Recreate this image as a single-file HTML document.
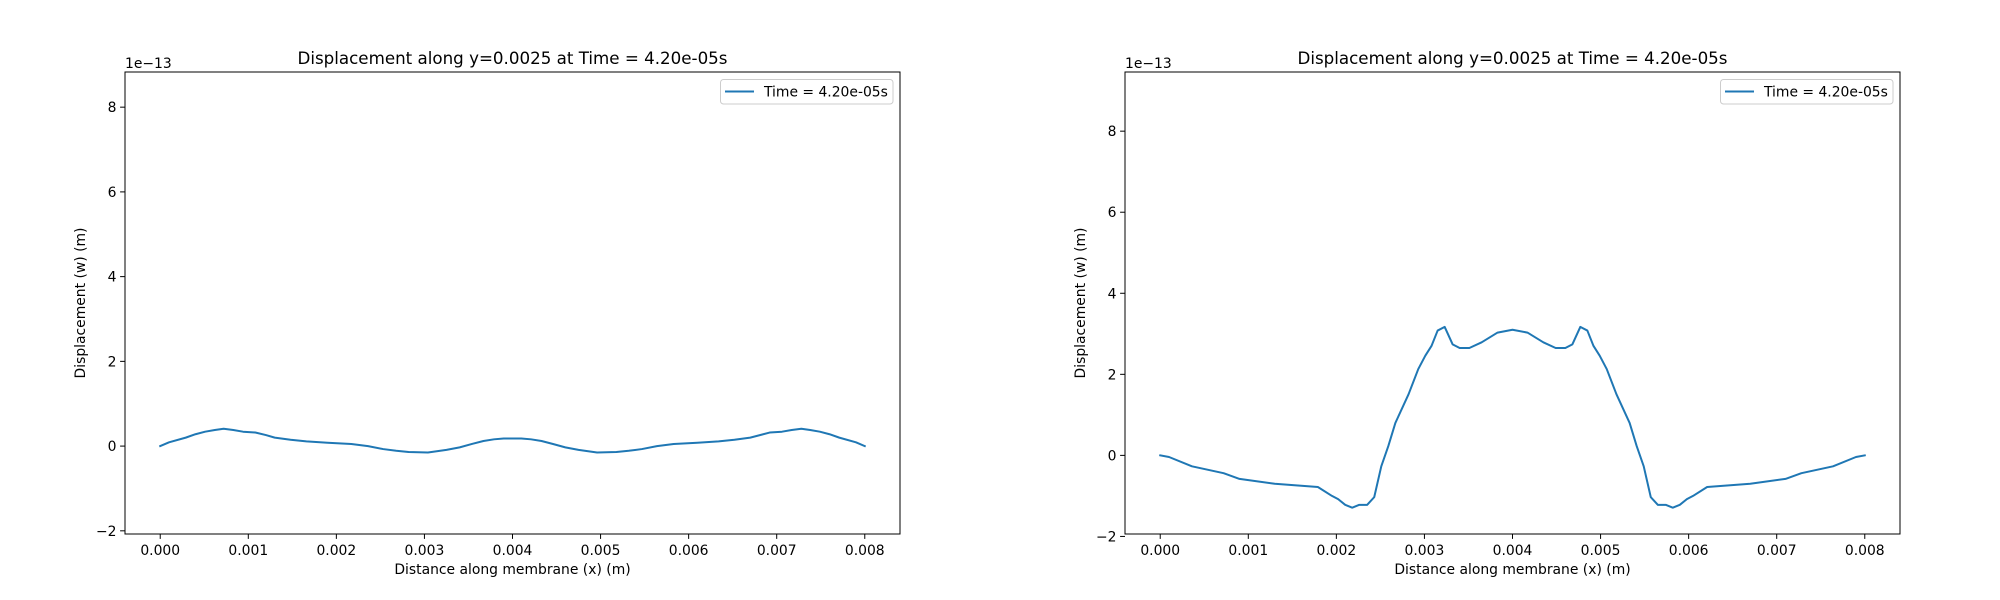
<!DOCTYPE html>
<html><head><meta charset="utf-8"><style>
html,body{margin:0;padding:0;background:#fff;}
svg{display:block;font-family:"DejaVu Sans","Liberation Sans",sans-serif;}
</style></head><body>
<svg id="fig" width="2000" height="600" viewBox="0 0 2000 600" xmlns="http://www.w3.org/2000/svg"></svg>
<script>
const xTickVals = [0,0.001,0.002,0.003,0.004,0.005,0.006,0.007,0.008];
const xTickLabels = ["0.000","0.001","0.002","0.003","0.004","0.005","0.006","0.007","0.008"];
const yTickVals = [-2,0,2,4,6,8];
const yTickLabels = ["\u22122","0","2","4","6","8"];
const leftX = [0,0.0001,0.00029,0.0004,0.00051,0.00062,0.00072,0.00083,0.00094,0.00108,0.0012,0.0013,0.00148,0.00166,0.0019,0.00217,0.00236,0.00253,0.00268,0.00282,0.00304,0.00325,0.0034,0.00354,0.00367,0.00379,0.0039,0.004,0.0041,0.00421,0.00433,0.00446,0.0046,0.00475,0.00496,0.00518,0.00532,0.00547,0.00564,0.00583,0.0061,0.00634,0.00652,0.0067,0.00692,0.00706,0.00717,0.00728,0.00738,0.00749,0.0076,0.00771,0.0079,0.008];
const leftY = [0,0.09,0.2,0.28,0.34,0.38,0.41,0.38,0.34,0.32,0.26,0.2,0.15,0.11,0.08,0.05,0.0,-0.07,-0.11,-0.14,-0.15,-0.09,-0.03,0.05,0.12,0.16,0.18,0.18,0.18,0.16,0.12,0.05,-0.03,-0.09,-0.15,-0.14,-0.11,-0.07,0.0,0.05,0.08,0.11,0.15,0.2,0.32,0.34,0.38,0.41,0.38,0.34,0.28,0.2,0.09,0];
const rightX = [0,0.0001,0.00036,0.00072,0.0009,0.0013,0.00179,0.00195,0.00202,0.0021,0.00218,0.00226,0.00235,0.00243,0.00251,0.00259,0.00267,0.00282,0.00293,0.00301,0.00308,0.00315,0.00323,0.00332,0.0034,0.00351,0.00365,0.00383,0.004,0.00417,0.00435,0.00449,0.0046,0.00468,0.00477,0.00485,0.00492,0.00499,0.00507,0.00518,0.00533,0.00541,0.00549,0.00557,0.00565,0.00574,0.00582,0.0059,0.00598,0.00605,0.00621,0.0067,0.0071,0.00728,0.00764,0.0079,0.008];
const rightY = [0,-0.04,-0.27,-0.44,-0.58,-0.70,-0.78,-1.0,-1.08,-1.22,-1.29,-1.22,-1.22,-1.03,-0.27,0.23,0.80,1.51,2.13,2.46,2.70,3.08,3.17,2.74,2.65,2.65,2.79,3.03,3.10,3.03,2.79,2.65,2.65,2.74,3.17,3.08,2.70,2.46,2.13,1.51,0.80,0.23,-0.27,-1.03,-1.22,-1.22,-1.29,-1.22,-1.08,-1.0,-0.78,-0.70,-0.58,-0.44,-0.27,-0.04,0];

const NS="http://www.w3.org/2000/svg";
const svg=document.getElementById('fig');
function mk(tag,attrs,parent){const e=document.createElementNS(NS,tag);for(const k in attrs)e.setAttribute(k,attrs[k]);(parent||svg).appendChild(e);return e;}

function drawPanel(px0,px1,py0,py1,ymin,ymax,xs,ys,side){
  const xmin=-0.0004,xmax=0.0084;
  const X=v=>px0+(v-xmin)/(xmax-xmin)*(px1-px0);
  const Y=v=>py1-(v-ymin)/(ymax-ymin)*(py1-py0);
  const g=mk('g',{});
  
  
  let d='';
  for(let i=0;i<xs.length;i++){d+=(i?'L':'M')+X(xs[i]).toFixed(2)+','+Y(ys[i]).toFixed(2);}
  const p=mk('path',{d:d,fill:'none',stroke:'#1f77b4','stroke-width':2,'stroke-linejoin':'round','stroke-linecap':'square'},g);
  
  
  const fr=mk('rect',{x:px0,y:py0,width:px1-px0,height:py1-py0,fill:'none',stroke:'#000','stroke-width':1},g);
  
  
  for(let i=0;i<xTickVals.length;i++){
    const x=X(xTickVals[i]);
    mk('line',{x1:x,x2:x,y1:py1,y2:py1+4.9,stroke:'#000','stroke-width':1},g);
    const t=mk('text',{x:x,y:py1+21,'text-anchor':'middle','font-size':13.9,fill:'#000'},g);
    t.textContent=xTickLabels[i];
    
    
  }
  for(let i=0;i<yTickVals.length;i++){
    const y=Y(yTickVals[i]);
    if(y<py0-1||y>py1+3)continue;
    mk('line',{x1:px0-4.9,x2:px0,y1:y,y2:y,stroke:'#000','stroke-width':1},g);
    const t=mk('text',{x:px0-8.5,y:y+5,'text-anchor':'end','font-size':13.9,fill:'#000'},g);
    t.textContent=yTickLabels[i];
    
    
  }
  const cx=(px0+px1)/2;
  const ti=mk('text',{x:cx,y:64,'text-anchor':'middle','font-size':16.7,fill:'#000'},g);
  ti.textContent='Displacement along y=0.0025 at Time = 4.20e-05s';
  
  
  const off=mk('text',{x:px0,y:68,'font-size':13.9,fill:'#000'},g);
  off.textContent='1e\u221213';
  
  
  const xl=mk('text',{x:cx,y:574,'text-anchor':'middle','font-size':13.9,fill:'#000'},g);
  xl.textContent='Distance along membrane (x) (m)';
  
  
  const yc=(py0+py1)/2;
  const yl=mk('text',{x:px0-40,y:yc,'text-anchor':'middle','font-size':13.9,fill:'#000',transform:'rotate(-90 '+(px0-40)+' '+yc+')'},g);
  yl.textContent='Displacement (w) (m)';
  
  
  const lg=mk('g',{},g);
  
  
  mk('rect',{x:px1-179.5,y:79.5,width:172.5,height:24.5,rx:3,fill:'#fff','fill-opacity':0.8,stroke:'#ccc','stroke-width':1},lg);
  mk('line',{x1:px1-175,x2:px1-146,y1:91.5,y2:91.5,stroke:'#1f77b4','stroke-width':2},lg);
  const lt=mk('text',{x:px1-136,y:96.5,'font-size':13.9,fill:'#000'},lg);
  lt.textContent='Time = 4.20e-05s';
  
  
}
drawPanel(125,900,72,534,-2.075,8.83,leftX,leftY,'left');
drawPanel(1125,1900,72,534,-1.94,9.46,rightX,rightY,'right');
</script>
</body></html>
